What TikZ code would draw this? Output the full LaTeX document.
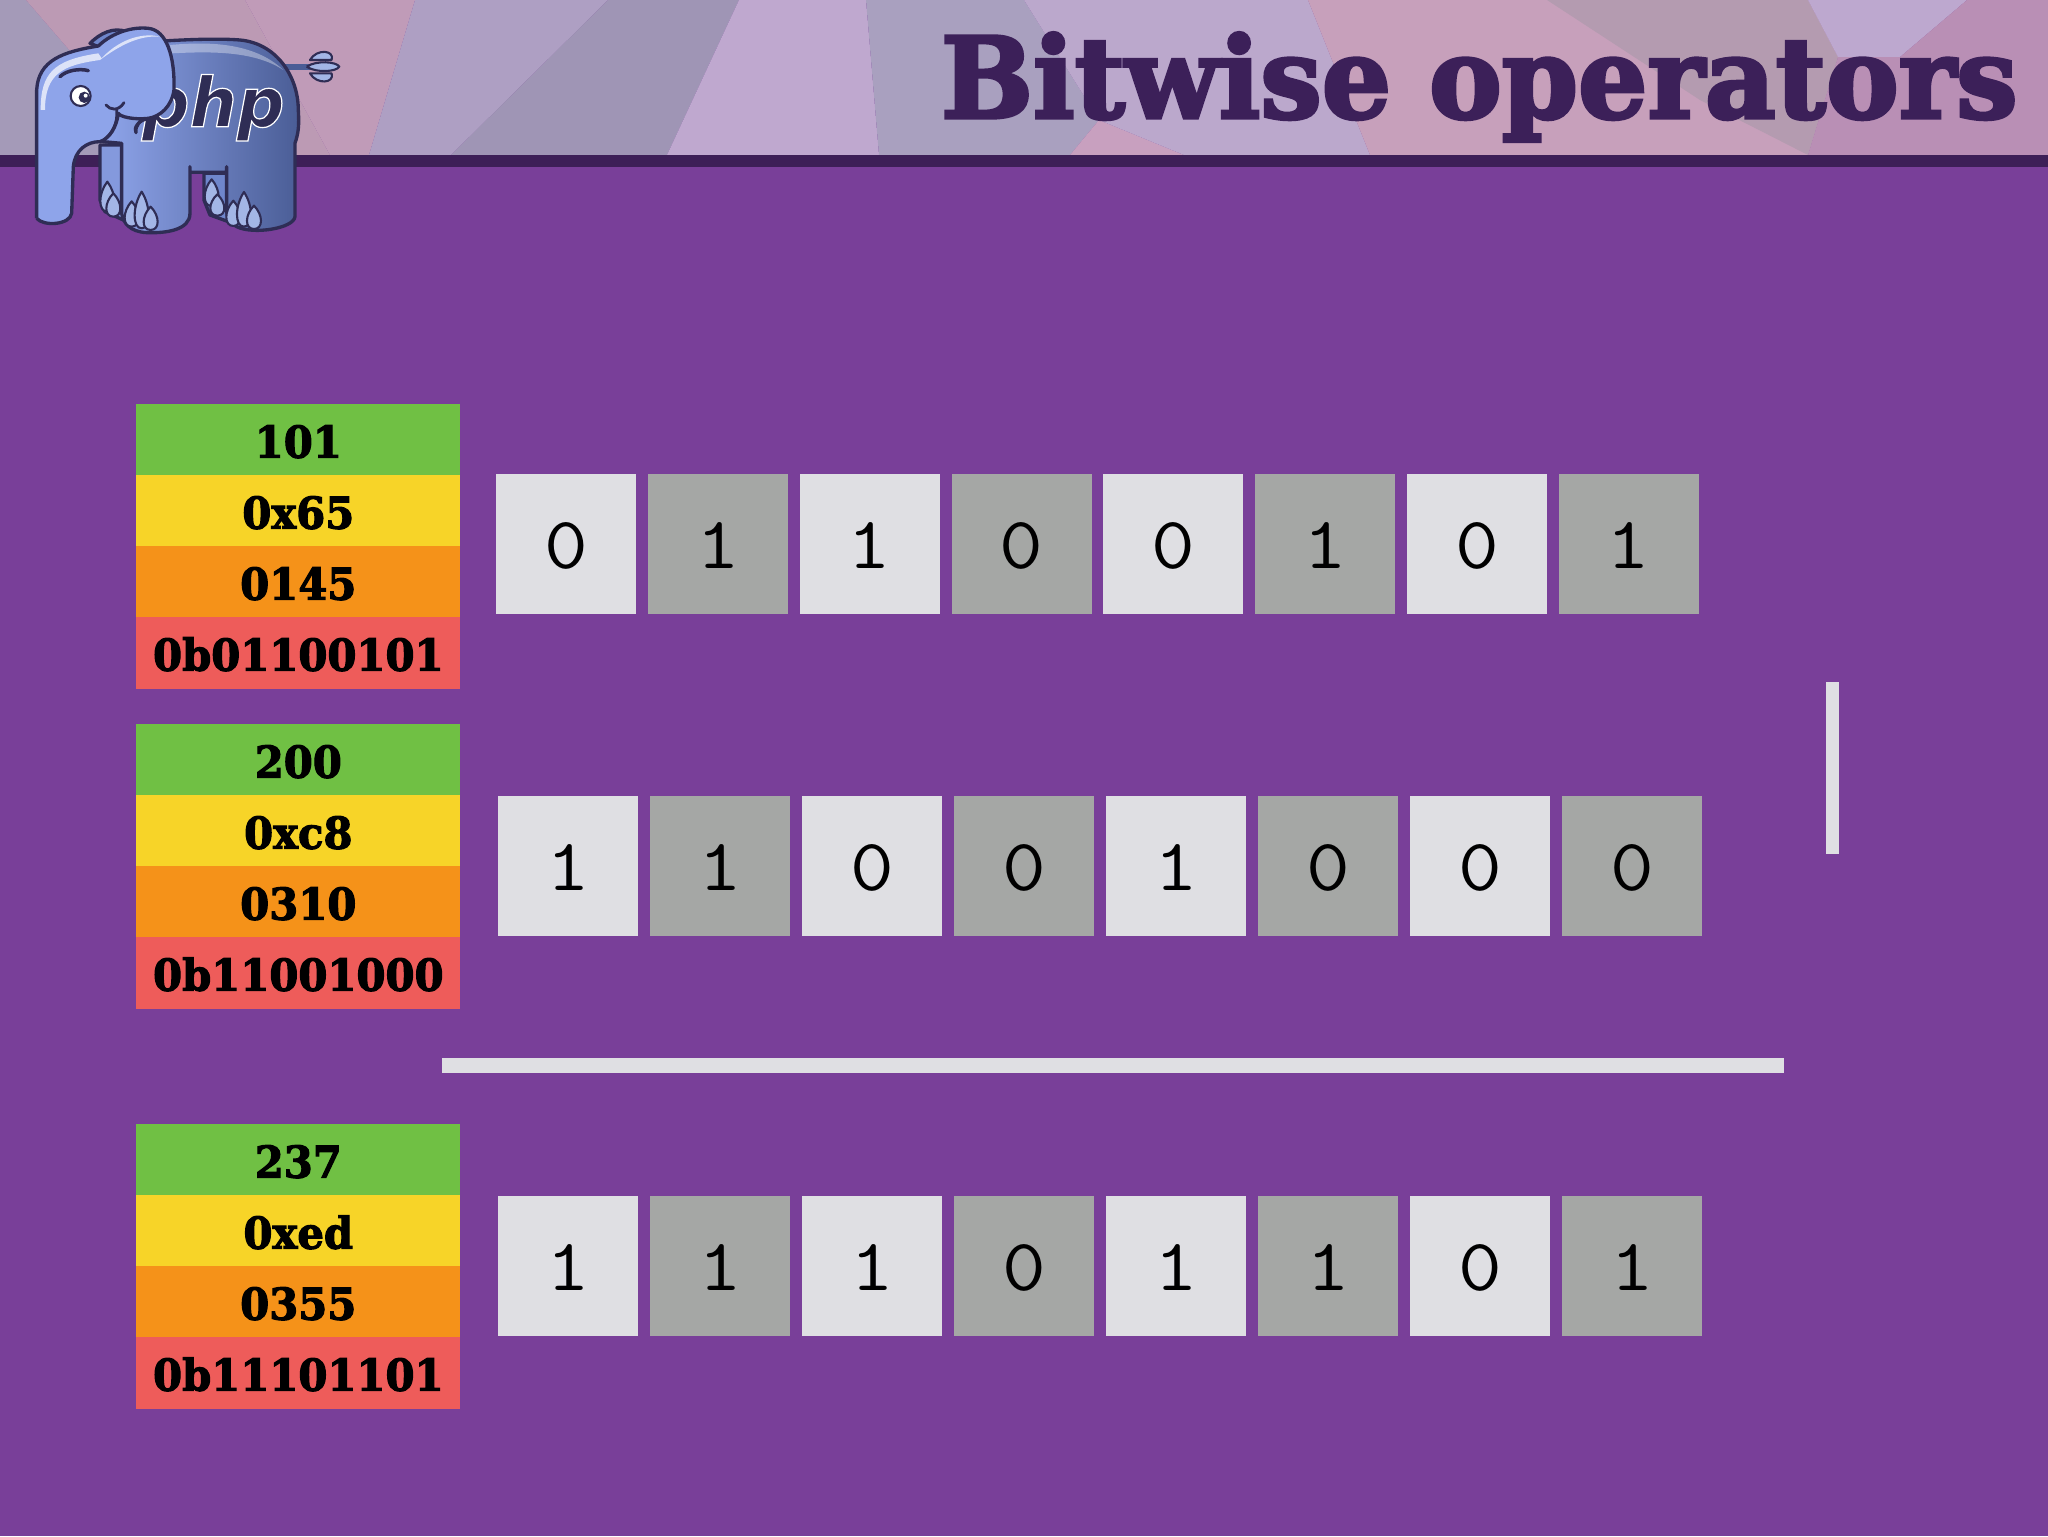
\documentclass[tikz,border=0pt]{standalone}
\usepackage{fontspec}
\newfontfamily\titlefont[FakeStretch=0.97,FakeBold=3,UprightFont=* Bold]{DejaVu Serif}
\newfontfamily\slabfont[FakeStretch=0.95,FakeBold=2.5,UprightFont=* Bold]{DejaVu Serif}
\newfontfamily\bitfont[FakeStretch=1.15]{Latin Modern Mono}
\newfontfamily\phpfont[FakeStretch=0.97,UprightFont=* Bold Oblique]{DejaVu Sans}
\definecolor{bodypurple}{HTML}{793F99}
\definecolor{barpurple}{HTML}{3D1F57}
\definecolor{titlepurple}{HTML}{3C2059}
\definecolor{bitlightfill}{HTML}{DFDFE3}
\definecolor{bitgrayfill}{HTML}{A5A7A5}
\definecolor{decgreen}{HTML}{70C044}
\definecolor{hexyellow}{HTML}{F7D428}
\definecolor{octorange}{HTML}{F59219}
\definecolor{binred}{HTML}{EE5C5A}
\definecolor{eleline}{HTML}{2F2D55}
\definecolor{elehead}{HTML}{8EA4EA}
\definecolor{eletoe}{HTML}{A3B6E6}
\definecolor{elemid}{HTML}{6F86CC}
\definecolor{eledark}{HTML}{4A5D96}
\tikzset{
    stackrow/.style={anchor=north west,minimum width=6.48cm,minimum height=1.43cm,inner sep=0pt,
        text=black,text height=20pt,text depth=0pt,font=\slabfont\fontsize{25pt}{25pt}\selectfont},
    bitcell/.style={anchor=north west,minimum size=2.8cm,inner sep=0pt,text=black,
        text height=27pt,text depth=0pt,font=\bitfont\fontsize{42pt}{42pt}\selectfont},
    bitlight/.style={bitcell,fill=bitlightfill},
    bitgray/.style={bitcell,fill=bitgrayfill},
    eleshape/.style={draw=eleline,line width=1.9pt,line join=round},
    eletoenail/.style={eleshape,line width=1.2pt,fill=eletoe},
}
\begin{document}
\begin{tikzpicture}[x=0.02cm,y=-0.02cm]
    \useasboundingbox (0,0) rectangle (2048,1536);
    \fill[bodypurple] (0,0) rectangle (2048,1536);

    % header mesh
    \foreach \col/\pts in {
        A49AB8/{(0,0) -- (26,0) -- (160,155) -- (0,155)},
        BC9AB4/{(26,0) -- (245,0) -- (330,155) -- (160,155)},
        C09BB8/{(245,0) -- (415,0) -- (369,155) -- (330,155)},
        AE9FC3/{(415,0) -- (608,0) -- (451,155) -- (369,155)},
        9F95B5/{(608,0) -- (739,0) -- (667,155) -- (451,155)},
        BFA8CF/{(739,0) -- (866,0) -- (879,155) -- (667,155)},
        A9A0BF/{(866,0) -- (1024,0) -- (1099,120) -- (1070,155) -- (879,155)},
        C8A0BF/{(1099,120) -- (1184,155) -- (1070,155)},
        BBA8CC/{(1024,0) -- (1308,0) -- (1370,155) -- (1184,155) -- (1099,120)},
        C7A0BB/{(1308,0) -- (1808,0) -- (1838,57) -- (1808,155) -- (1370,155)},
        B49BB0/{(1547,0) -- (1808,0) -- (1838,57) -- (1808,155) -- (1700,100)},
        BDA8CF/{(1808,0) -- (1967,0) -- (1900,57) -- (1838,57)},
        B98FB5/{(1967,0) -- (2048,0) -- (2048,155) -- (1808,155) -- (1838,57) -- (1900,57)}} {
        \definecolor{meshfill}{HTML}{\col}
        \fill[meshfill] \pts -- cycle;
    }
    \fill[barpurple] (0,155) rectangle (2048,167);

    \node[anchor=base east,inner sep=0pt,text=titlepurple,font=\titlefont\fontsize{64pt}{64pt}\selectfont]
        (title) at (2018,118) {Bitwise operators};

    % elephant, in steps of a third of a pixel
    \begin{scope}[shift={(20,10)},scale=0.3333]
        % tail
        \draw[eledark,line width=3.5pt] (790,170) -- (870,170);
        \draw[eletoenail] (870,150) .. controls (890,115) and (945,120) .. (935,150) -- cycle;
        \draw[eletoenail] (870,190) .. controls (890,225) and (945,220) .. (935,190) -- cycle;
        \draw[eletoenail] (860,170) .. controls (890,150) and (950,155) .. (958,170) .. controls (950,185) and (890,190) .. (860,170);
        % far legs
        \draw[eleshape,fill=elehead!85!eledark] (240,405) -- (310,405) -- (310,630) -- (255,605) -- (240,570) -- cycle;
        \draw[eleshape,fill=elemid] (552,490) -- (625,490) -- (625,635) -- (570,615) -- (552,570) -- cycle;
        % ear back
        \draw[eleshape,fill=elemid] (210,100) .. controls (240,70) and (280,50) .. (320,65) -- (320,90) -- (240,112) -- cycle;
        % body
        \draw[eleshape,left color=elehead,right color=eledark]
            (400,95) .. controls (500,88) and (600,85) .. (660,90)
            .. controls (770,100) and (835,200) .. (835,300)
            .. controls (838,350) and (835,370) .. (825,400)
            -- (825,620) .. controls (822,655) and (700,675) .. (650,650)
            .. controls (625,635) and (620,620) .. (620,600)
            -- (620,470) -- (620,487) -- (510,487) -- (510,470) -- (510,610)
            .. controls (510,660) and (440,670) .. (380,668)
            .. controls (330,665) and (310,640) .. (305,610)
            -- (305,400) -- (250,395) -- cycle;
        \fill[white,opacity=0.35] (450,105) .. controls (560,95) and (700,95) .. (790,180)
            .. controls (700,120) and (560,125) .. (455,130) -- cycle;
        % lettering
        \node[inner sep=0pt,anchor=base west,text=eleline,font=\phpfont\fontsize{39pt}{39pt}\selectfont]
            (phptext) at (365,350) {\special{pdf:code 2 Tr 0.7 w 1 1 1 RG}php\special{pdf:code 0 Tr}};
        % head and ear
        \draw[eleshape,fill=elehead]
            (50,625) -- (50,240) .. controls (55,150) and (130,125) .. (235,108)
            .. controls (280,65) and (340,50) .. (385,55)
            .. controls (440,60) and (465,140) .. (462,240)
            .. controls (455,290) and (420,320) .. (385,325)
            .. controls (355,330) and (340,355) .. (348,368)
            .. controls (345,345) and (360,330) .. (385,325)
            .. controls (340,330) and (300,320) .. (295,310)
            .. controls (290,350) and (270,385) .. (240,395)
            .. controls (200,395) and (165,420) .. (160,470)
            -- (155,610) .. controls (150,645) and (70,650) .. (50,625);
        \fill[white,opacity=0.7] (62,300) .. controls (62,190) and (100,150) .. (235,130)
            -- (245,145) .. controls (290,95) and (360,65) .. (420,80)
            .. controls (360,75) and (300,105) .. (240,150)
            .. controls (130,165) and (75,190) .. (75,300) -- cycle;
        % face
        \draw[eleline,line width=2pt,line cap=round] (120,200) .. controls (140,180) and (180,175) .. (205,182);
        \draw[eleline,line width=1.6pt,line cap=round] (258,285) .. controls (270,300) and (295,305) .. (312,278);
        \draw[eleline,line width=1.6pt,line cap=round] (290,298) .. controls (295,340) and (275,375) .. (245,395);
        \draw[eleshape,line width=1.2pt,fill=white] (182,258) circle [radius=30];
        \fill[eleline] (193,262) circle [radius=17];
        \fill[white] (197,257) circle [radius=6];
        % toes
        \foreach \x/\y/\rad in {262/560/45,280/585/35,335/612/38,365/600/55,392/625/35,
                                575/548/40,592/585/32,640/610/38,672/598/52,702/622/35}
            \draw[eletoenail] (\x,\y+\rad) .. controls (\x-28,\y+\rad) and (\x-28,\y-0.2*\rad) .. (\x,\y-\rad)
                .. controls (\x+28,\y-0.2*\rad) and (\x+28,\y+\rad) .. (\x,\y+\rad);
    \end{scope}

    % number bases beside each byte
    \foreach \stack/\ytop/\dec/\hex/\oct/\bin in {
        a/404/101/0x65/0145/0b01100101,
        b/724/200/0xc8/0310/0b11001000,
        c/1124/237/0xed/0355/0b11101101} {
        \node[stackrow,fill=decgreen] (dec-\stack) at (136,\ytop) {\dec};
        \node[stackrow,fill=hexyellow] (hex-\stack) at (136,\ytop+71) {\hex};
        \node[stackrow,fill=octorange] (oct-\stack) at (136,\ytop+142) {\oct};
        \node[stackrow,fill=binred] (bin-\stack) at (136,\ytop+213) {\bin};
    }

    % bit cells
    \foreach \stack/\ytop/\xleft/\xstep/\bits in {
        a/474/496/151.75/{0,1,1,0,0,1,0,1},
        b/796/498/152/{1,1,0,0,1,0,0,0},
        c/1196/498/152/{1,1,1,0,1,1,0,1}} {
        \foreach \bit [count=\i] in \bits {
            \ifodd\i\def\cellstyle{bitlight}\else\def\cellstyle{bitgray}\fi
            \node[\cellstyle] (cell-\stack-\i) at ({\xleft+\xstep*(\i-1)},\ytop) {\bit};
        }
    }

    % the operator and the result line
    \fill[bitlightfill] (1826,682) rectangle (1839,854);
    \fill[bitlightfill] (442,1058) rectangle (1784,1073);
\end{tikzpicture}
\end{document}
